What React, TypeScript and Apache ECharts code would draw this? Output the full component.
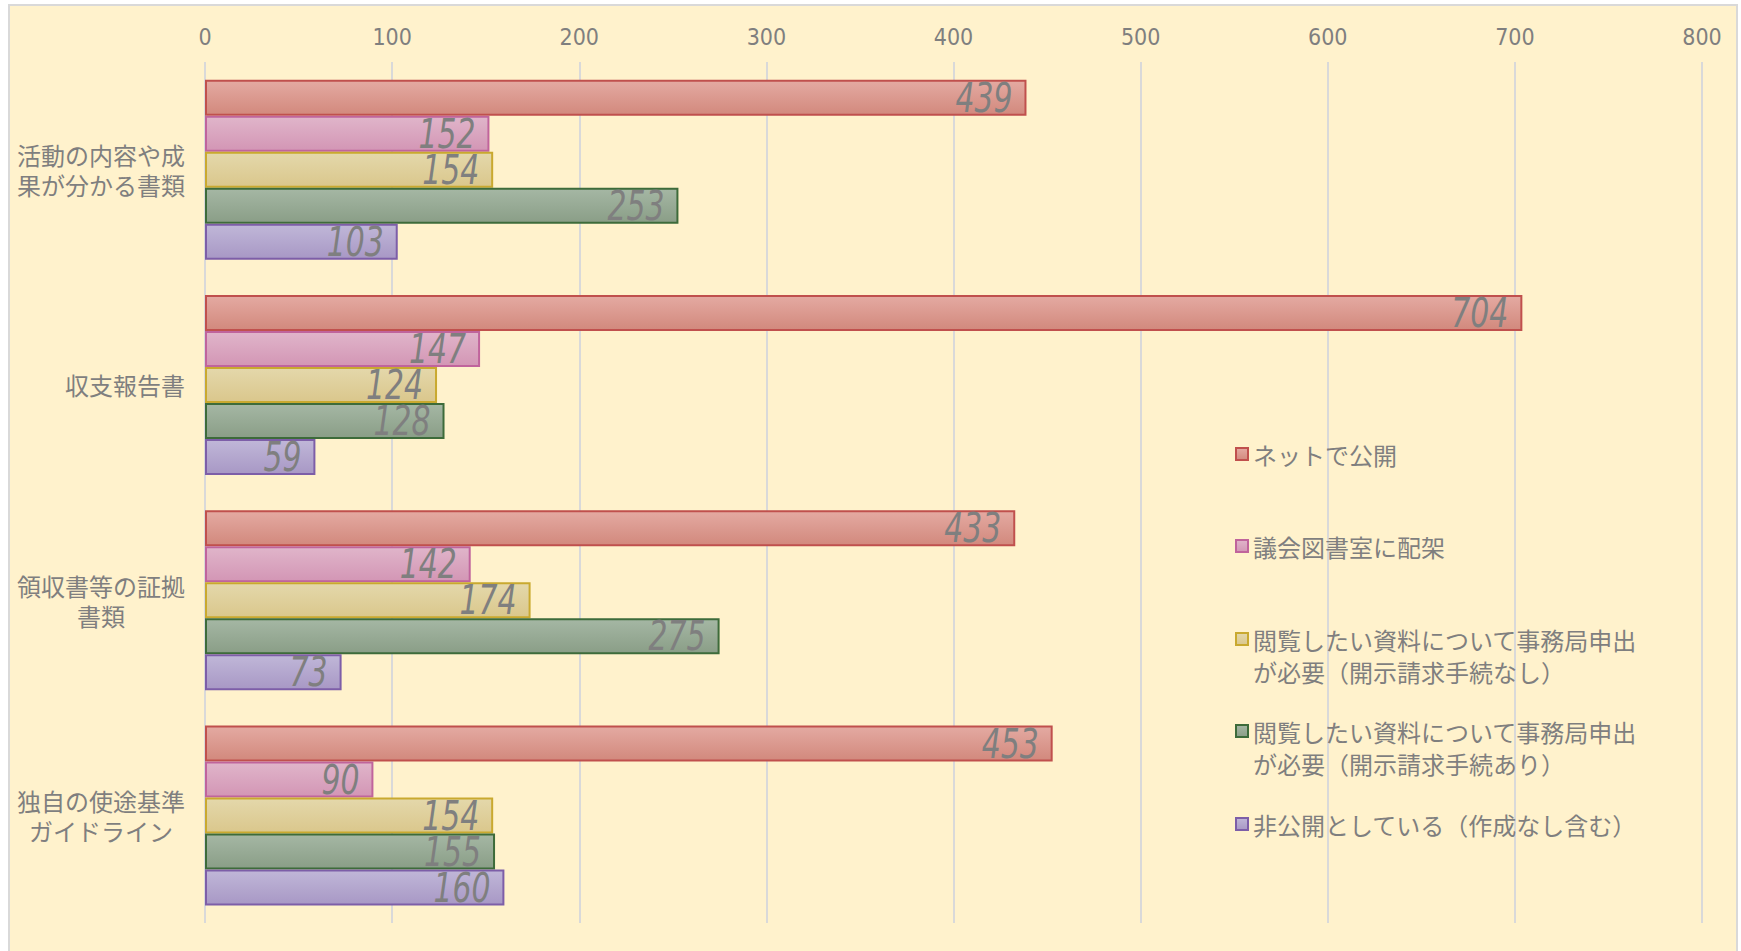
import React, { useEffect, useRef } from "react";
import * as echarts from "echarts";

const categories = [
  "活動の内容や成果が分かる書類",
  "収支報告書",
  "領収書等の証拠書類",
  "独自の使途基準ガイドライン",
];

const seriesNames = [
  "ネットで公開",
  "議会図書室に配架",
  "閲覧したい資料について事務局申出が必要（開示請求手続なし）",
  "閲覧したい資料について事務局申出が必要（開示請求手続あり）",
  "非公開としている（作成なし含む）",
];

const netValues = [439, 704, 433, 453];
const libraryValues = [152, 147, 142, 90];
const requestNoDisclosureValues = [154, 124, 174, 154];
const requestDisclosureValues = [253, 128, 275, 155];
const privateValues = [103, 59, 73, 160];

const xTicks = [0, 100, 200, 300, 400, 500, 600, 700, 800];

const seriesValues = [
  netValues,
  libraryValues,
  requestNoDisclosureValues,
  requestDisclosureValues,
  privateValues,
];

const palette = [
  { top: "#e4aaa2", bottom: "#d2897d", border: "#c0504d" },
  { top: "#e0b5ca", bottom: "#d396b5", border: "#c0649c" },
  { top: "#e4d8ab", bottom: "#dac78c", border: "#c9a92f" },
  { top: "#a5b7a4", bottom: "#8a9e87", border: "#3d6b3a" },
  { top: "#c0b7d8", bottom: "#a898c5", border: "#7d5ea8" },
];

const legendCenters = [456, 548, 641, 733, 826];

const BAR_WIDTH = 36;
const GRAY = "#7f7f7f";
const NARROW = "'Liberation Sans Narrow', 'Arial Narrow', 'DejaVu Sans Condensed', sans-serif";
const CJK = "'Noto Sans CJK JP', 'Noto Sans', sans-serif";
const CAT_FONT = 24;
const CAT_WRAP = 7;
const CAT_GAP = 20;

function wrap(s: string, n: number): string[] {
  const out: string[] = [];
  for (let i = 0; i < s.length; i += n) out.push(s.slice(i, i + n));
  return out;
}

export default function App() {
  const ref = useRef<HTMLDivElement>(null);

  useEffect(() => {
    if (!ref.current) return;
    const chart = echarts.init(ref.current, undefined, { renderer: "svg" });

    const n = seriesNames.length;

    const bars = seriesNames.map((name, i) => ({
      name,
      type: "bar",
      data: seriesValues[i],
      barWidth: BAR_WIDTH,
      barGap: "0%",
      itemStyle: {
        color: new echarts.graphic.LinearGradient(0, 0, 0, 1, [
          { offset: 0, color: palette[i].top },
          { offset: 1, color: palette[i].bottom },
        ]),
        borderColor: palette[i].border,
        borderWidth: 2,
      },
    }));

    const labels = seriesNames.map((name, i) => ({
      type: "custom",
      name: name + " ラベル",
      coordinateSystem: "cartesian2d",
      silent: true,
      z: 5,
      data: seriesValues[i].map((v, j) => [v, j]),
      renderItem: (params: any, api: any) => {
        const v = api.value(0);
        const c = api.value(1);
        const p = api.coord([v, c]);
        const offset = (i - (n - 1) / 2) * BAR_WIDTH;
        return {
          type: "text",
          x: p[0] - 14,
          y: p[1] + offset,
          scaleX: 0.81,
          style: {
            text: String(v),
            align: "right",
            verticalAlign: "middle",
            fontFamily: NARROW,
            fontStyle: "italic",
            fontSize: 41,
            lineHeight: 34,
            fill: GRAY,
          },
        };
      },
    }));

    const legends = seriesNames.map((name, i) => {
      const twoLine = name.length > 16;
      return {
        show: true,
        data: [name],
        orient: "vertical",
        left: 1235,
        top: legendCenters[i] - (twoLine ? 50 : 18),
        padding: 0,
        itemWidth: 12,
        itemHeight: 12,
        icon: "rect",
        selectedMode: false,
        formatter: (nm: string) =>
          nm.length > 16 ? "\n" + wrap(nm, 16).join("\n") : nm,
        textStyle: {
          fontFamily: CJK,
          fontSize: 24,
          lineHeight: 32,
          color: GRAY,
        },
      };
    });

    // Multi-line labels: lines centred in a block that is right-aligned to the axis.
    const blockWidth = CAT_WRAP * CAT_FONT;
    const yData = categories.map((c) =>
      c.length > CAT_WRAP
        ? c
        : {
            value: c,
            textStyle: {
              align: "center",
              padding: [0, 0, 0, (CAT_WRAP - c.length) * CAT_FONT],
            },
          }
    );

    chart.setOption({
      animation: false,
      backgroundColor: "#ffffff",
      graphic: {
        z: -10,
        elements: [
          {
            type: "rect",
            z: -10,
            shape: { x: 9, y: 5, width: 1728, height: 1000 },
            style: { fill: "#fff2cc", stroke: "#d9d9d9", lineWidth: 2 },
            silent: true,
          },
        ],
      },
      grid: {
        left: 205,
        right: 39,
        top: 62,
        bottom: 28,
        containLabel: false,
        outerBoundsMode: "none",
      },
      legend: legends,
      xAxis: {
        type: "value",
        position: "top",
        min: xTicks[0],
        max: xTicks[xTicks.length - 1],
        interval: 100,
        axisLine: { show: false },
        axisTick: { show: false },
        splitLine: { show: true, lineStyle: { color: "#d9d9d9", width: 2 } },
        axisLabel: {
          margin: 14,
          fontFamily: NARROW,
          fontSize: 23,
          color: GRAY,
        },
      },
      yAxis: {
        type: "category",
        inverse: true,
        data: yData,
        axisLine: { show: false },
        axisTick: { show: false },
        splitLine: { show: false },
        axisLabel: {
          margin: CAT_GAP + blockWidth / 2,
          align: "center",
          fontFamily: CJK,
          fontSize: CAT_FONT,
          lineHeight: 30,
          color: GRAY,
          formatter: (v: string) => wrap(v, CAT_WRAP).join("\n"),
        },
      },
      series: [...bars, ...labels],
    });

    return () => chart.dispose();
  }, []);

  return (
    <div
      ref={ref}
      style={{ position: "fixed", left: 0, top: 0, width: 1741, height: 951 }}
    />
  );
}
